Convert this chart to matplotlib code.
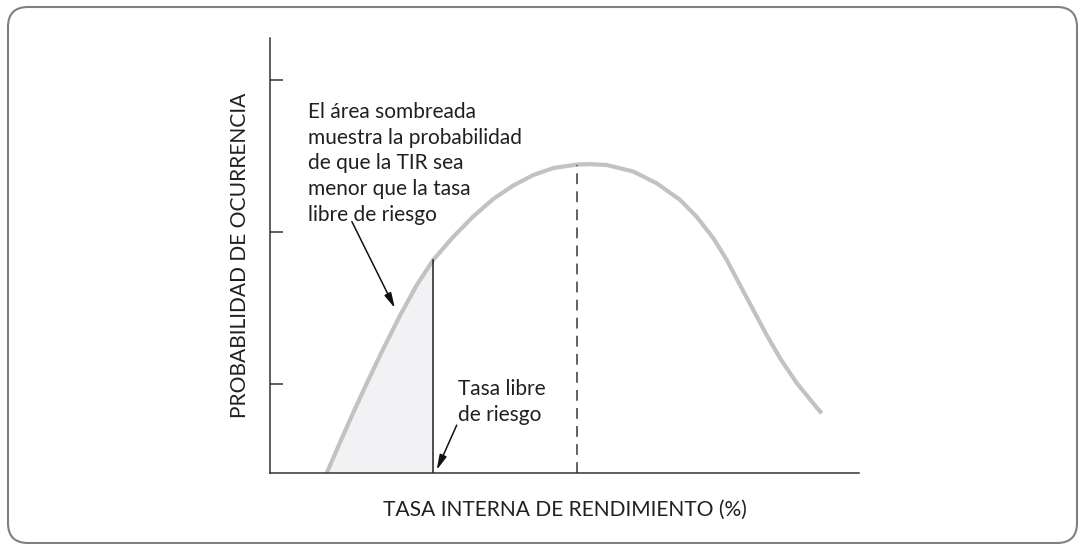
import matplotlib.pyplot as plt
from matplotlib.patches import FancyBboxPatch
from matplotlib.transforms import IdentityTransform

# Curve (x: rate, y: probability, arbitrary units)
tir = [9.63, 11.88, 14.14, 16.42, 18.96, 22.07, 24.91, 27.72, 31.12, 34.52,
       37.91, 41.31, 44.70, 48.10, 52.07, 54.33, 57.17, 61.68, 65.65, 69.61,
       72.44, 75.26, 77.54, 79.80, 82.05, 84.33, 86.59, 89.42, 92.24, 93.67]
prob = [0.0, 7.0, 13.9, 20.6, 27.8, 36.2, 43.2, 49.0, 54.3, 59.0,
        63.0, 66.1, 68.5, 70.1, 70.9, 71.0, 70.8, 69.3, 66.6, 62.8,
        58.9, 54.0, 49.0, 43.2, 37.5, 31.7, 26.4, 20.7, 16.0, 13.7]
tasa_libre = 27.72         # risk-free rate
tasa_esperada = 52.1       # expected IRR (dashed line)
prob_libre = 49.0
prob_max = 70.8
y_ticks = [20.5, 55.4, 90.3]

texto_area = ("El área sombreada\nmuestra la probabilidad\nde que la TIR sea\n"
              "menor que la tasa\nlibre de riesgo")
texto_tasa = "Tasa libre\nde riesgo"
xlabel = "TASA INTERNA DE RENDIMIENTO (%)"
ylabel = "PROBABILIDAD DE OCURRENCIA"

plt.rcParams['font.family'] = ['Lato', 'DejaVu Sans']
txt_color = "#231f20"

W, H = 1079, 544
fig = plt.figure(figsize=(W / 100, H / 100), dpi=100)
ax = fig.add_axes([270 / W, (H - 473) / H, 589 / W, 435 / H])

# rounded frame around the whole figure
frame = FancyBboxPatch((8, 1), 1069, 536, boxstyle="round,pad=0,rounding_size=20",
                       transform=IdentityTransform(), facecolor="none",
                       edgecolor="#808080", linewidth=1.5)
fig.add_artist(frame)

# shaded area below the risk-free rate
n = tir.index(tasa_libre) + 1
ax.fill_between(tir[:n], prob[:n], 0, color="#f2f1f3", linewidth=0)
ax.plot(tir, prob, color="#c2c2c2", linewidth=3, solid_capstyle="butt",
        solid_joinstyle="round")
ax.plot([tasa_libre, tasa_libre], [0, prob_libre], color="#231f20", linewidth=1.1)
ax.plot([tasa_esperada, tasa_esperada], [0, prob_max], color="#555555",
        linewidth=1.3, linestyle=(0, (6, 4)))

ax.set_xlim(0, 100)
ax.set_ylim(0, 100)
for s in ["top", "right"]:
    ax.spines[s].set_visible(False)
for s in ["left", "bottom"]:
    ax.spines[s].set_color("#333333")
    ax.spines[s].set_linewidth(1.1)
ax.set_xticks([])
ax.set_yticks(y_ticks)
ax.set_yticklabels([])
ax.tick_params(axis="y", direction="in", length=9, width=1.1, color="#333333")

ax.set_xlabel(xlabel, fontsize=15.1, color=txt_color, va="center")
ax.xaxis.set_label_coords(0.5, -37 / 435)
ax.set_ylabel(ylabel, fontsize=15.1, color=txt_color, va="center")
ax.yaxis.set_label_coords(-30 / 589, 0.5)

ax.text(6.45, 85.3, texto_area, fontsize=15, color=txt_color,
        va="top", ha="left", linespacing=1.36)
ax.text(32.0, 21.5, texto_tasa, fontsize=15, color=txt_color,
        va="top", ha="left", linespacing=1.36)

arrow = dict(arrowstyle="-|>,head_length=0.9,head_width=0.22", color="#111111",
             linewidth=1.1, shrinkA=0, shrinkB=0)
ax.annotate("", xy=(21.2, 37.9), xytext=(13.9, 57.8), arrowprops=arrow)
ax.annotate("", xy=(28.3, 0.7), xytext=(31.7, 11.0), arrowprops=arrow)

fig.savefig("out.png", dpi=100)
